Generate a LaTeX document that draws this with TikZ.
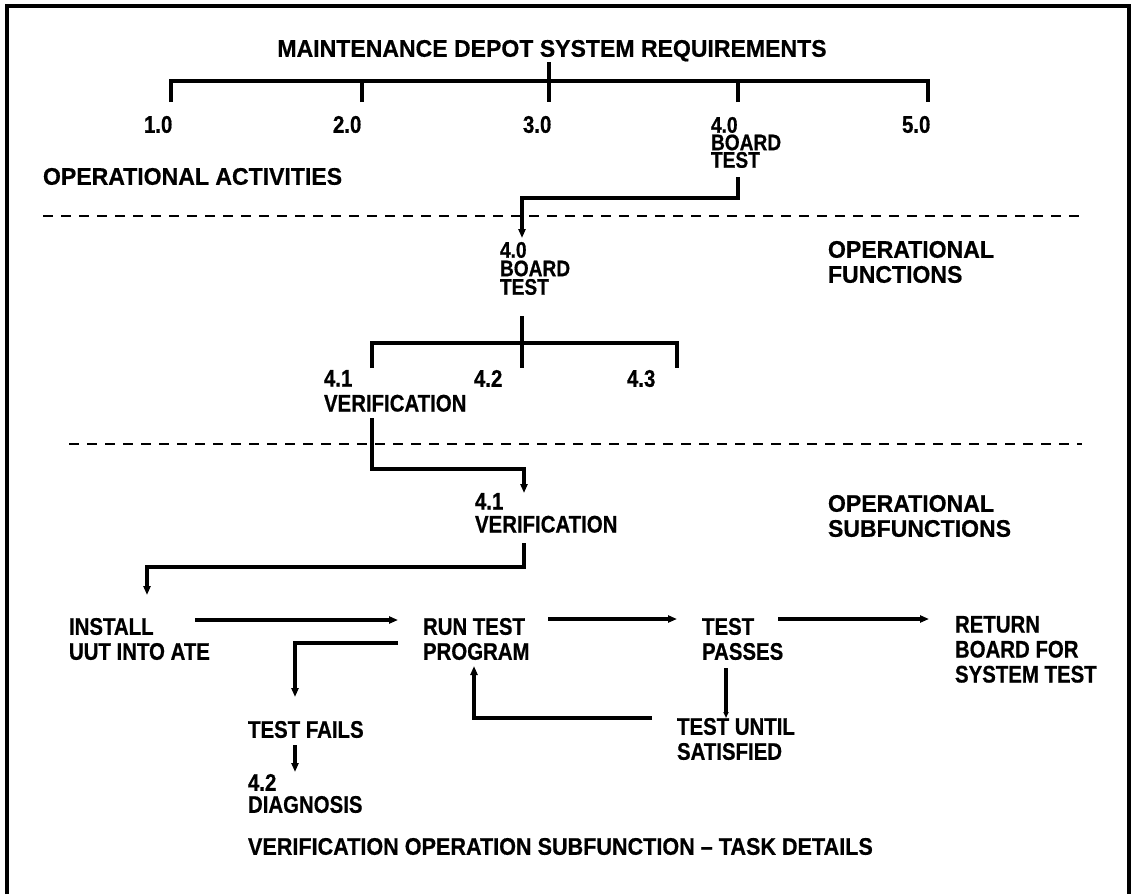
\documentclass[tikz,border=0pt]{standalone}
\usepackage{fontspec}
\newfontfamily\pf{Liberation Sans Bold}[FakeStretch=0.85, FakeBold=0.6]
\newfontfamily\pfw{Liberation Sans Bold}[FakeStretch=0.96, FakeBold=0.6]
\newfontfamily\pfm{Liberation Sans Bold}[FakeStretch=0.90, FakeBold=0.6]
\usetikzlibrary{arrows.meta}
\tikzset{
  txt/.style={font=\pf\fontsize{24}{25}\selectfont, inner sep=0pt, outer sep=0pt, align=left, anchor=north west},
  wide/.style={font=\pfw\fontsize{24}{25}\selectfont},
  tight/.style={font=\pf\fontsize{22.5}{17.5}\selectfont},
  mid/.style={font=\pf\fontsize{22.5}{18.5}\selectfont},
  ln/.style={line width=3.4pt},
  br/.style={line width=3.8pt},
  dsh/.style={line width=2.6pt, dash pattern=on 10pt off 8pt},
  arr/.style={ln, -{Triangle[length=9pt,width=7pt]}},
  frame/.style={line width=3.5pt}
}
\begin{document}
\begin{tikzpicture}[x=1pt,y=-1pt]
\useasboundingbox (0,0) rectangle (1131,894);
\fill[white] (0,0) rectangle (1131,894);
% frame
\coordinate (fbl) at (7,894);
\coordinate (ftl) at (7,6);
\coordinate (ftr) at (1129,6);
\coordinate (fbr) at (1129,894);
\draw[frame] (fbl) -- (ftl) -- (ftr) -- (fbr);

% texts
\node[txt, wide, anchor=north] (title) at (552,40) {MAINTENANCE DEPOT SYSTEM REQUIREMENTS};
\node[txt] (l10) at (144,116) {1.0};
\node[txt] (l20) at (333,116) {2.0};
\node[txt] (l30) at (523,116) {3.0};
\node[txt, tight] (l40) at (711,117) {4.0\\BOARD\\TEST};
\node[txt] (l50) at (902,116) {5.0};
\node[txt, wide] (oa) at (43,168) {OPERATIONAL ACTIVITIES};
\node[txt, mid] (bt) at (500,242) {4.0\\BOARD\\TEST};
\node[txt, wide] (of) at (828,241) {OPERATIONAL\\FUNCTIONS};
\node[txt] (f41) at (324,370) {4.1\\VERIFICATION};
\node[txt] (f42) at (474,370) {4.2};
\node[txt] (f43) at (627,370) {4.3};
\node[txt, wide] (osf) at (828,495) {OPERATIONAL\\SUBFUNCTIONS};
\node[txt, font=\pf\fontsize{24}{23}\selectfont] (v41) at (475,493) {4.1\\VERIFICATION};
\node[txt] (inst) at (69,618) {INSTALL\\UUT INTO ATE};
\node[txt] (run) at (423,618) {RUN TEST\\PROGRAM};
\node[txt] (pass) at (702,618) {TEST\\PASSES};
\node[txt] (ret) at (955,616) {RETURN\\BOARD FOR\\SYSTEM TEST};
\node[txt] (fail) at (248,721) {TEST FAILS};
\node[txt, font=\pf\fontsize{24}{22}\selectfont] (diag) at (248,774) {4.2\\DIAGNOSIS};
\node[txt] (until) at (677,718) {TEST UNTIL\\SATISFIED};
\node[txt, font=\pfm\fontsize{24}{25}\selectfont] (foot) at (248,838) {VERIFICATION OPERATION SUBFUNCTION – TASK DETAILS};

% dashed separators
\coordinate (d1a) at (43,216);  \coordinate (d1b) at (1082,216);
\coordinate (d2a) at (69,444);  \coordinate (d2b) at (1082,444);
\draw[dsh] (d1a) -- (d1b);
\draw[dsh] (d2a) -- (d2b);

% top bracket
\coordinate (t0) at (549,62);
\coordinate (t1) at (171,81); \coordinate (t5) at (928,81);
\coordinate (b1) at (171,102); \coordinate (b2) at (362,102); \coordinate (b3) at (549,102);
\coordinate (b4) at (738,102); \coordinate (b5) at (928,102);
\draw[br] (b1) -- (t1) -- (t5) -- (b5);
\draw[br] (t0) -- (b3);
\draw[br] (b2) |- (t1);
\draw[br] (b4) |- (t5);

% 4.0 board test -> functions
\coordinate (c1) at (738,177);
\coordinate (c2) at (738,198);
\coordinate (c3) at (522,198);
\coordinate (c4) at (522,238);
\draw[arr] (c1) -- (c2) -- (c3) -- (c4);

% second bracket
\coordinate (s0) at (522,316);
\coordinate (s1) at (372,343); \coordinate (s3) at (677,343);
\coordinate (e1) at (372,368); \coordinate (e2) at (522,368); \coordinate (e3) at (677,368);
\draw[br] (e1) -- (s1) -- (s3) -- (e3);
\draw[br] (s0) -- (e2);

% 4.1 verification -> subfunctions
\coordinate (g1) at (372,418);
\coordinate (g2) at (372,469);
\coordinate (g3) at (524,469);
\coordinate (g4) at (524,493);
\draw[arr] (g1) -- (g2) -- (g3) -- (g4);

% subfunction -> install
\coordinate (h1) at (524,543);
\coordinate (h2) at (524,567);
\coordinate (h3) at (147,567);
\coordinate (h4) at (147,595);
\draw[arr] (h1) -- (h2) -- (h3) -- (h4);

% horizontal flow
\coordinate (i1) at (195,620); \coordinate (i2) at (398,620);
\draw[arr] (i1) -- (i2);
\coordinate (j1) at (548,619); \coordinate (j2) at (677,619);
\draw[arr] (j1) -- (j2);
\coordinate (k1) at (778,619); \coordinate (k2) at (929,619);
\draw[arr] (k1) -- (k2);

% fail branch
\coordinate (m1) at (398,643);
\coordinate (m2) at (295,643);
\coordinate (m3) at (295,697);
\draw[arr] (m1) -- (m2) -- (m3);
\coordinate (n1) at (295,745);
\coordinate (n2) at (295,772);
\draw[arr] (n1) -- (n2);

% pass -> until
\coordinate (p1) at (726,668);
\coordinate (p2) at (726,718);
\draw[ln, -{Triangle[length=6pt,width=5pt]}] (p1) -- (p2);

% loop back
\coordinate (q1) at (652,718);
\coordinate (q2) at (474,718);
\coordinate (q3) at (474,666);
\draw[arr] (q1) -- (q2) -- (q3);
\end{tikzpicture}
\end{document}
